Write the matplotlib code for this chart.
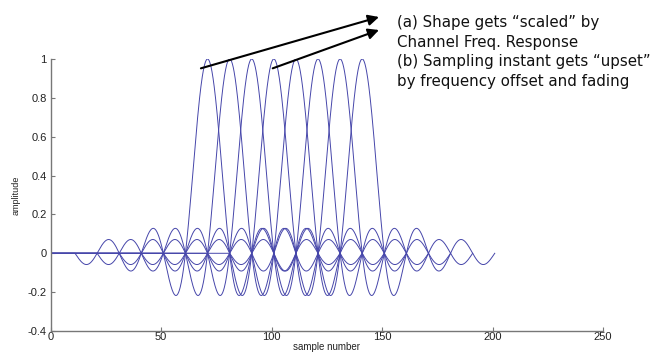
import numpy as np
import matplotlib
matplotlib.use("Agg")
import matplotlib.pyplot as plt

# ---- data ----
subcarrier_centers = [71, 81, 91, 101, 111, 121, 131, 141]   # peak positions (sample number)
null_spacing = 10          # distance between zero crossings
half_span = 60             # each pulse runs from centre-60 to centre+60
x_ticks = [0, 50, 100, 150, 200, 250]
y_ticks = [-0.4, -0.2, 0, 0.2, 0.4, 0.6, 0.8, 1]
y_tick_labels = ["-0.4", "-0.2", "0", "0.2", "0.4", "0.6", "0.8", "1"]
annotation_lines = [
    "(a) Shape gets \u201cscaled\u201d by",
    "Channel Freq. Response",
    "(b) Sampling instant gets \u201cupset\u201d",
    "by frequency offset and fading",
]
arrow_tails = [(68, 0.952), (100.5, 0.952)]   # data coords on the pulses

W, H = 672, 354
fig = plt.figure(figsize=(W / 100, H / 100), dpi=100)
ax = fig.add_axes([50.7 / W, 1 - 331 / H, (603 - 50.7) / W, (331 - 59) / H])

line_color = "#4646aa"
for c in subcarrier_centers:
    x = np.linspace(0, c + half_span, int((c + half_span) * 8) + 1)
    y = np.where(np.abs(x - c) <= half_span, np.sinc((x - c) / null_spacing), 0.0)
    ax.plot(x, y, color=line_color, lw=0.7)

ax.set_xlim(0, 250)
ax.set_ylim(-0.4, 1)
ax.set_xticks(x_ticks)
ax.set_xticklabels([str(t) for t in x_ticks])
ax.set_yticks(y_ticks)
ax.set_yticklabels(y_tick_labels)
for s in ["top", "right"]:
    ax.spines[s].set_visible(False)
for s in ["left", "bottom"]:
    ax.spines[s].set_color("#777777")
    ax.spines[s].set_linewidth(1.0)
ax.tick_params(direction="in", length=3, width=0.8, color="#777777",
               labelsize=8, labelcolor="#222222")
ax.tick_params(axis="y", pad=2.8)
ax.tick_params(axis="x", pad=1)
for lab in ax.get_xticklabels() + ax.get_yticklabels():
    lab.set_family("Liberation Sans")
ax.set_xlabel("sample number", fontsize=7, family="Liberation Sans", labelpad=0, color="#222222")
ax.set_ylabel("amplitude", fontsize=6.5, family="Liberation Sans", labelpad=5, color="#222222")

# arrows from pulses to the text
heads = [(379 / W, 1 - 17 / H), (379 / W, 1 - 30 / H)]
for (tx, ty), (hx, hy) in zip(arrow_tails, heads):
    ax.annotate("", xy=(hx, hy), xycoords="figure fraction",
                xytext=(tx, ty), textcoords="data",
                arrowprops=dict(arrowstyle="-|>", color="black", lw=1.5,
                                mutation_scale=16, shrinkA=0, shrinkB=0),
                annotation_clip=False)

baselines = [26.7, 46.5, 66.3, 86]
for txt, b in zip(annotation_lines, baselines):
    fig.text(397 / W, 1 - b / H, txt, fontsize=10.8, family="DejaVu Sans",
             va="baseline", ha="left", color="#111111")

fig.savefig("out.png", dpi=100)
